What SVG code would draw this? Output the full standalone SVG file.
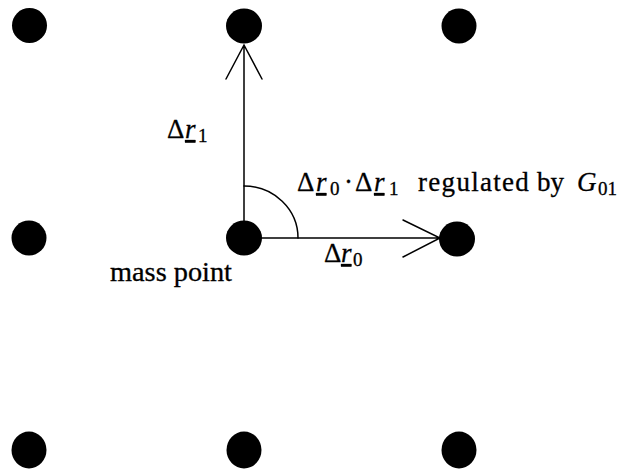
<svg xmlns="http://www.w3.org/2000/svg" width="622" height="469" viewBox="0 0 622 469">
<style>
.dot{fill:#000}
.ln{stroke:#000;stroke-width:1.5;fill:none;stroke-linecap:round}
text{font-family:"Liberation Serif","DejaVu Serif",serif;font-size:27px;fill:#000;stroke:#000;stroke-width:0.3}
.it{font-style:italic}
.ul{text-decoration:underline}
.sub{font-size:19px}
</style>
<g id="nodes">
<g id="n00"><ellipse class="dot" cx="29.5" cy="25.5" rx="17.5" ry="17.5"/></g>
<g id="n01"><ellipse class="dot" cx="244" cy="26" rx="18" ry="17.5"/></g>
<g id="n02"><ellipse class="dot" cx="459" cy="26" rx="17.5" ry="17.5"/></g>
<g id="n10"><ellipse class="dot" cx="29" cy="238" rx="17.5" ry="17.5"/></g>
<g id="n11"><ellipse class="dot" cx="244" cy="238" rx="18" ry="17.5"/></g>
<g id="n12"><ellipse class="dot" cx="457" cy="239" rx="18" ry="17.5"/></g>
<g id="n20"><ellipse class="dot" cx="29" cy="450" rx="17.5" ry="18.5"/></g>
<g id="n21"><ellipse class="dot" cx="244" cy="450" rx="17.5" ry="18.5"/></g>
<g id="n22"><ellipse class="dot" cx="459" cy="450" rx="17.5" ry="18.5"/></g>
</g>
<g id="connectors">
<path class="ln" d="M244 238 V45 M226 79 L244 45 L262 79"/>
<path class="ln" d="M244 238 H440 M403 220 L440 238 L403 257"/>
<path class="ln" d="M244 186 A54 52 0 0 1 298 238"/>
</g>
<g id="labels">
<text font-family="Liberation Serif, DejaVu Serif, serif" y="138"><tspan x="167">Δ</tspan><tspan class="it ul" x="185">r</tspan><tspan class="sub" x="198" dy="4">1</tspan></text>
<text font-family="Liberation Serif, DejaVu Serif, serif" y="191"><tspan x="297">Δ</tspan><tspan class="it ul" x="316">r</tspan><tspan class="sub" x="330" dy="4">0</tspan><tspan x="344" dy="-4">·</tspan><tspan x="355">Δ</tspan><tspan class="it ul" x="374">r</tspan><tspan class="sub" x="389" dy="4">1</tspan><tspan x="418" dy="-4" letter-spacing="1.3">regulated</tspan><tspan x="537">by</tspan><tspan class="it" x="577">G</tspan><tspan class="sub" x="598" dy="4">01</tspan></text>
<text font-family="Liberation Serif, DejaVu Serif, serif" y="262"><tspan x="324">Δ</tspan><tspan class="it ul" x="341">r</tspan><tspan class="sub" x="353" dy="4">0</tspan></text>
<text font-family="Liberation Serif, DejaVu Serif, serif" x="110" y="281" textLength="122" lengthAdjust="spacingAndGlyphs">mass point</text>
</g>
</svg>
